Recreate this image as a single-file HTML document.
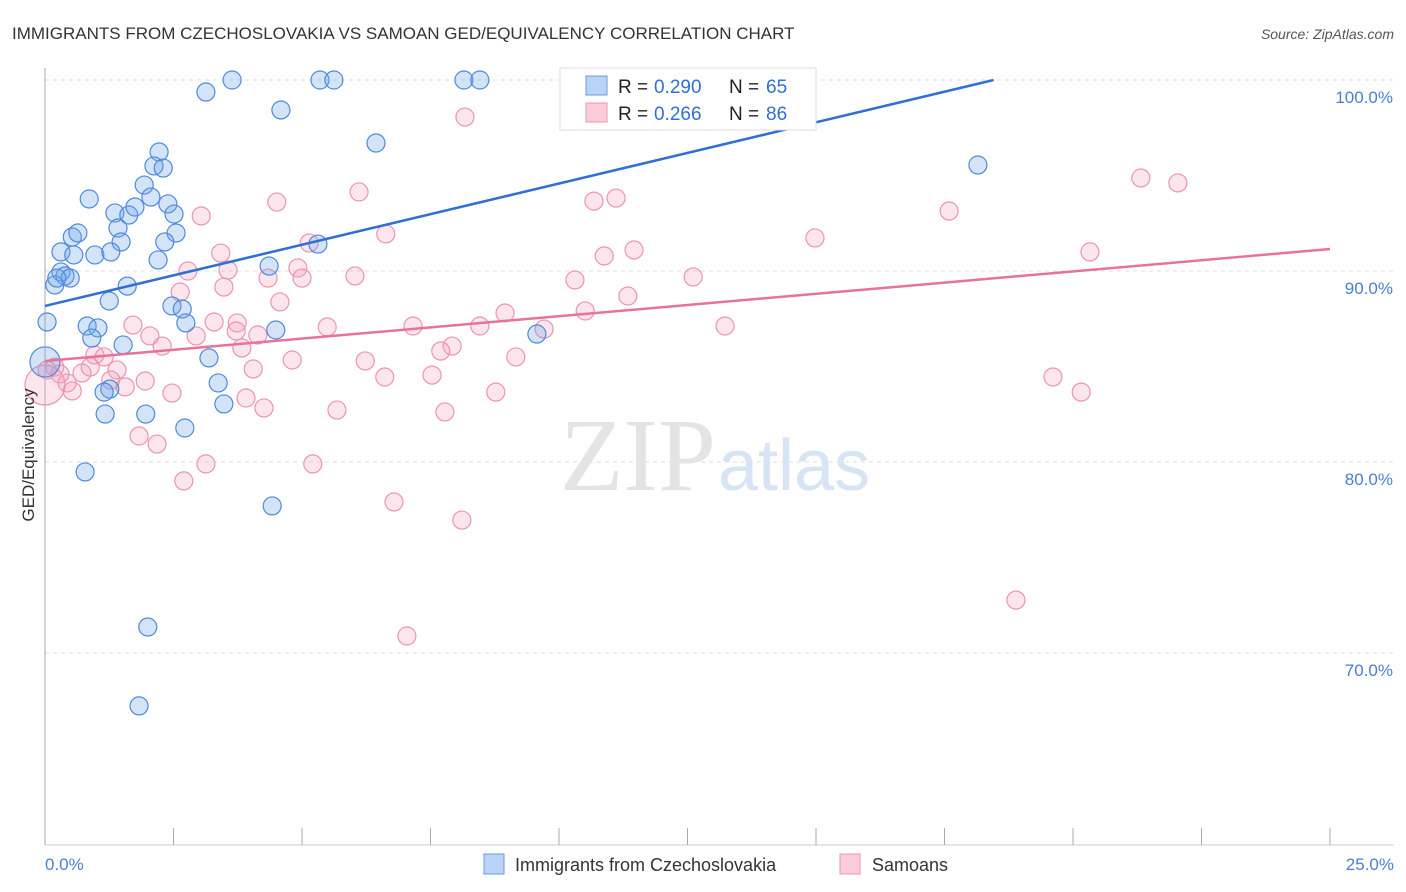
<!DOCTYPE html>
<html><head><meta charset="utf-8"><style>
body{margin:0;background:#fff;font-family:"Liberation Sans",sans-serif;}
svg{display:block}
</style></head><body>
<svg width="1406" height="892" xmlns="http://www.w3.org/2000/svg">
<text x="12" y="39" font-size="17" fill="#333">IMMIGRANTS FROM CZECHOSLOVAKIA VS SAMOAN GED/EQUIVALENCY CORRELATION CHART</text>
<text x="1394" y="39" font-size="14" fill="#555" font-style="italic" text-anchor="end">Source: ZipAtlas.com</text>
<g id="grid"></g>
<text x="716" y="490" font-size="104" fill="#e4e4e4" text-anchor="end" font-family="Liberation Serif">ZIP</text>
<text x="718" y="490" font-size="72" fill="#d6e4f5">atlas</text>
<g id="pts"></g>
<g id="lines"></g>
<text transform="translate(34,455) rotate(-90)" font-size="17" fill="#333" text-anchor="middle">GED/Equivalency</text>
<text x="45" y="870" font-size="17" fill="#4a7fd4">0.0%</text>
<text x="1394" y="870" font-size="17" fill="#4a7fd4" text-anchor="end">25.0%</text>
<g>
<rect x="560" y="68" width="256" height="62" fill="#fff" stroke="#ddd"/>
<rect x="586" y="76" width="21" height="19" fill="#b9d3f5" stroke="#6b9ee0"/>
<rect x="586" y="103" width="21" height="19" fill="#fbcbd8" stroke="#ec94b0"/>
<text x="618" y="93" font-size="19" fill="#222">R =</text>
<text x="654" y="93" font-size="19" fill="#2f6fd6">0.290</text>
<text x="729" y="93" font-size="19" fill="#222">N =</text>
<text x="766" y="93" font-size="19" fill="#2f6fd6">65</text>
<text x="618" y="120" font-size="19" fill="#222">R =</text>
<text x="654" y="120" font-size="19" fill="#2f6fd6">0.266</text>
<text x="729" y="120" font-size="19" fill="#222">N =</text>
<text x="766" y="120" font-size="19" fill="#2f6fd6">86</text>
</g>
<g>
<rect x="484" y="854" width="20" height="20" fill="#b9d3f5" stroke="#6b9ee0"/>
<text x="515" y="871" font-size="18" fill="#333">Immigrants from Czechoslovakia</text>
<rect x="840" y="854" width="20" height="20" fill="#fbcbd8" stroke="#ec94b0"/>
<text x="872" y="871" font-size="18" fill="#333">Samoans</text>
</g>
</svg>
<script>
const blueX=[3.64,3.13,5.35,5.62,8.15,8.46,4.59,6.44,18.15,2.22,2.12,2.30,1.93,2.06,2.39,0.86,1.36,1.63,2.51,1.75,1.42,2.55,0.53,0.64,1.48,2.33,0.31,0.56,0.97,1.28,2.20,4.36,5.31,0.31,0.39,0.49,0.19,0.23,1.60,1.25,2.47,2.67,2.74,0.82,1.03,0.04,0.91,1.52,4.49,9.57,3.19,0,1.26,1.15,3.37,3.48,1.17,1.96,2.72,0.78,4.42,2.00,1.83];
const blueY=[100,99.37,100,100,100,100,98.43,96.70,95.55,96.23,95.50,95.39,94.50,93.87,93.51,93.77,93.04,92.93,92.98,93.35,92.25,91.99,91.78,91.99,91.52,91.52,91.0,90.84,90.84,91.0,90.58,90.26,91.41,89.95,89.74,89.63,89.27,89.63,89.21,88.43,88.17,88.01,87.28,87.12,87.02,87.33,86.49,86.13,86.91,86.70,85.45,85.24,83.82,83.66,84.14,83.04,82.51,82.51,81.78,79.48,77.70,71.36,67.23];
const pinkX=[8.17,6.11,4.51,3.04,6.63,5.14,3.42,2.78,3.56,4.92,4.34,5.0,6.03,3.48,2.63,4.57,10.68,11.11,10.88,11.46,10.31,12.61,14.98,17.59,20.33,21.32,22.04,11.34,10.51,8.95,8.46,9.71,7.16,5.49,3.74,3.29,1.71,2.04,2.28,3.83,3.72,4.14,2.94,13.23,7.92,7.70,9.16,4.81,6.23,0.97,1.15,0.88,1.40,0.19,0.04,0.29,0.72,1.28,0.43,1.95,1.56,0.53,2.47,4.05,3.91,6.61,7.53,8.77,4.26,5.68,7.78,19.61,20.16,1.83,2.18,3.13,5.21,2.70,6.79,8.11,18.89,7.04,0];
const pinkY=[98.06,94.14,93.61,92.88,91.94,91.47,90.94,90.0,90.05,90.16,89.63,89.63,89.74,89.16,88.90,88.38,93.66,93.82,90.79,91.10,89.53,89.69,91.73,93.14,91.0,94.87,94.61,88.69,87.91,87.80,87.12,86.96,87.12,87.07,87.28,87.33,87.17,86.60,86.07,85.97,86.86,86.65,86.60,87.12,86.07,85.81,85.50,85.34,85.29,85.60,85.50,84.97,84.82,84.97,84.82,84.61,84.66,84.29,84.14,84.24,83.93,83.72,83.61,84.87,83.35,84.45,84.55,83.66,82.83,82.72,82.62,84.45,83.66,81.36,80.94,79.90,79.90,79.01,77.91,76.96,72.77,70.89,84.03];
const blueBig=[51];const pinkBig=[82];
const blueLine=[88.17,0.641];const pinkLine=[85.29,0.2344];
const yTicks=[100,90,80,70];
const xTicks=[0,2.5,5,7.5,10,12.5,15,17.5,20,22.5,25];
const NS='http://www.w3.org/2000/svg';
const sx=v=>45+v*51.4, sy=v=>80+(100-v)*19.1;
function mk(t,a,p){const e=document.createElementNS(NS,t);for(const k in a)e.setAttribute(k,a[k]);p.appendChild(e);return e;}
const grid=document.getElementById('grid');
yTicks.forEach(t=>{
 const l=mk('line',{x1:45,x2:1394,y1:sy(t),y2:sy(t),stroke:'#ddd','stroke-dasharray':'4,4'},grid);
 
 
 const tx=mk('text',{x:1393,y:sy(t)+23,'font-size':17,fill:'#4a7fd4','text-anchor':'end'},grid);
 tx.textContent=t.toFixed(1)+'%';
 
 
});
mk('line',{x1:45,x2:45,y1:68,y2:845,stroke:'#aaa'},grid);
mk('line',{x1:45,x2:1394,y1:845,y2:845,stroke:'#ccc'},grid);
xTicks.forEach(t=>{
 const l=mk('line',{x1:sx(t),x2:sx(t),y1:828,y2:845,stroke:'#aaa'},grid);
 
 
});
const pts=document.getElementById('pts');
function series(X,Y,big,fill,stroke,name){
 X.forEach((x,i)=>{
  const c=mk('circle',{cx:sx(x),cy:sy(Y[i]),r:big.includes(i)?(name==='pink-point'?20:15):9,fill:fill,stroke:stroke,'stroke-width':1.2},pts);
  
  
 });
}
series(pinkX,pinkY,pinkBig,'rgba(245,160,190,0.28)','#ec94b0','pink-point');
series(blueX,blueY,blueBig,'rgba(110,165,235,0.3)','#4f8ad8','blue-point');
const lines=document.getElementById('lines');
const bx2=(100-blueLine[0])/blueLine[1];
const bl=mk('line',{x1:sx(0),y1:sy(blueLine[0]),x2:sx(bx2),y2:sy(100),stroke:'#2f6fd6','stroke-width':2.5},lines);


const pl=mk('line',{x1:sx(0),y1:sy(pinkLine[0]),x2:sx(25),y2:sy(pinkLine[0]+25*pinkLine[1]),stroke:'#e8729a','stroke-width':2.5},lines);


</script>
</body></html>
